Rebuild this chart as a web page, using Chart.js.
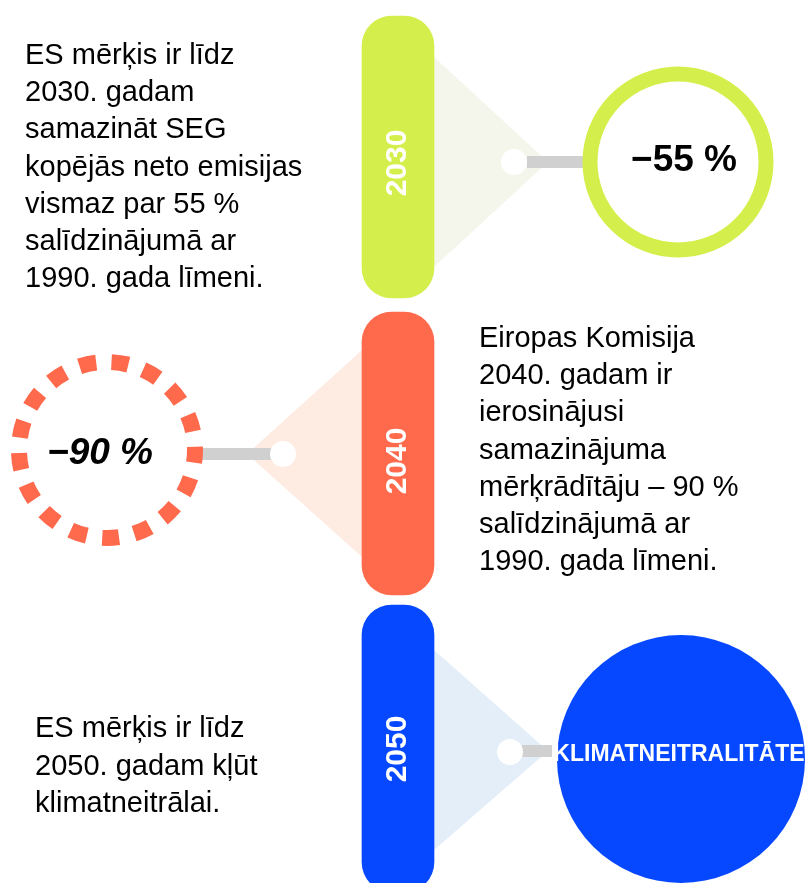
<!DOCTYPE html>
<html>
<head>
  <meta charset="UTF-8">
  <title>ES klimata mērķi</title>
  <script src="https://cdn.jsdelivr.net/npm/chart.js"></script>
  <style>
    html, body { margin: 0; padding: 0; background: #fff; }
    #chart { display: block; }
  </style>
</head>
<body>
  <canvas id="chart" width="808" height="883"></canvas>
  <script>
    // timeline data (axis units are the 808 x 883 artboard)
    const years = ['2030', '2040', '2050'];
    const pillSpans = [[16, 298], [312, 595], [605, 892]];
    const targets = ['−55 %', '−90 %', 'KLIMATNEITRALITĀTE'];

    const textLeft = [
      'ES mērķis ir līdz',
      '2030. gadam',
      'samazināt SEG',
      'kopējās neto emisijas',
      'vismaz par 55 %',
      'salīdzinājumā ar',
      '1990. gada līmeni.'
    ];
    const textRight = [
      'Eiropas Komisija',
      '2040. gadam ir',
      'ierosinājusi',
      'samazinājuma',
      'mērķrādītāju – 90 %',
      'salīdzinājumā ar',
      '1990. gada līmeni.'
    ];
    const textBottom = [
      'ES mērķis ir līdz',
      '2050. gadam kļūt',
      'klimatneitrālai.'
    ];

    // layout
    const pillX = 398;
    const cones = [
      [{x: 434, y: 57}, {x: 548, y: 162}, {x: 434, y: 267}],
      [{x: 362, y: 350}, {x: 247, y: 454}, {x: 362, y: 557}],
      [{x: 434, y: 650}, {x: 548, y: 751}, {x: 434, y: 850}]
    ];
    const links = [
      [{x: 527, y: 162}, {x: 584, y: 162}],
      [{x: 200, y: 454}, {x: 272, y: 454}],
      [{x: 522, y: 751}, {x: 552, y: 751}]
    ];
    const dots = [{x: 514, y: 162}, {x: 283, y: 454}, {x: 510, y: 752}];
    const circles = [{x: 678, y: 162}, {x: 107, y: 450}, {x: 681, y: 759}];
    const yearPos = [163, 461, 749];
    const targetPos = [[684, 161], [100, 454], [679, 755]];

    const lime = '#d4ef4b';
    const coral = '#ff6a4d';
    const blue = '#0648ff';
    const font = '"Liberation Sans", Arial, sans-serif';

    // dashed ring for 2040
    const dashRing = {
      id: 'dashRing',
      beforeDatasetDraw(chart, args) {
        if (!chart.data.datasets[args.index].dashed) return;
        const ctx = chart.ctx;
        const per = 2 * Math.PI * 88 / 17;
        ctx.save();
        ctx.setLineDash([17, per - 17]);
        ctx.lineDashOffset = 4.2;
      },
      afterDatasetDraw(chart, args) {
        if (!chart.data.datasets[args.index].dashed) return;
        chart.ctx.restore();
      }
    };

    const labels = {
      id: 'labels',
      afterDatasetsDraw(chart) {
        const ctx = chart.ctx;
        const xs = chart.scales.x;
        const ys = chart.scales.y;
        ctx.save();

        // years in the pills
        ctx.fillStyle = '#fff';
        ctx.font = 'bold 30px ' + font;
        ctx.textAlign = 'center';
        ctx.textBaseline = 'middle';
        years.forEach((yr, i) => {
          ctx.save();
          ctx.translate(xs.getPixelForValue(pillX), ys.getPixelForValue(yearPos[i]));
          ctx.rotate(-Math.PI / 2);
          ctx.fillText(yr, 0, 0);
          ctx.restore();
        });

        // circle labels
        ctx.fillStyle = '#000';
        ctx.font = 'bold 37px ' + font;
        ctx.fillText(targets[0], xs.getPixelForValue(targetPos[0][0]), ys.getPixelForValue(targetPos[0][1]));
        ctx.font = 'italic bold 37px ' + font;
        ctx.fillText(targets[1], xs.getPixelForValue(targetPos[1][0]), ys.getPixelForValue(targetPos[1][1]));
        ctx.fillStyle = '#fff';
        ctx.font = 'bold 23px ' + font;
        ctx.fillText(targets[2], xs.getPixelForValue(targetPos[2][0]), ys.getPixelForValue(targetPos[2][1]));

        // paragraphs
        ctx.fillStyle = '#000';
        ctx.font = '29px ' + font;
        ctx.textAlign = 'left';
        ctx.textBaseline = 'alphabetic';
        const block = (lines, x, y0, lh) => {
          lines.forEach((t, i) => {
            ctx.fillText(t, xs.getPixelForValue(x), ys.getPixelForValue(y0 + i * lh));
          });
        };
        block(textLeft, 25, 64, 37.2);
        block(textRight, 479, 347, 37.2);
        block(textBottom, 35, 737, 37.5);

        ctx.restore();
      }
    };

    const clear = 'rgba(0,0,0,0)';
    const datasets = [];

    cones.forEach((pts, i) => {
      datasets.push({
        type: 'line',
        data: pts,
        showLine: true,
        fill: 'shape',
        backgroundColor: ['#f4f6eb', '#feece3', '#e3eef9'][i],
        borderColor: clear,
        borderWidth: 1,
        pointRadius: 0,
        order: 10
      });
    });

    datasets.push({
      type: 'bar',
      data: pillSpans.map((s) => ({x: pillX, y: s})),
      backgroundColor: [lime, coral, blue],
      barThickness: 72,
      borderRadius: 30,
      borderSkipped: false,
      order: 9
    });

    links.forEach((pts) => {
      datasets.push({
        type: 'line',
        data: pts,
        showLine: true,
        fill: false,
        borderColor: '#d0d0d0',
        borderWidth: 12,
        borderCapStyle: 'butt',
        pointRadius: 0,
        order: 8
      });
    });

    datasets.push({
      type: 'scatter',
      data: dots,
      pointRadius: 13,
      pointBackgroundColor: '#fff',
      pointBorderWidth: 0,
      order: 7
    });

    datasets.push({
      type: 'scatter',
      data: [circles[0]],
      pointRadius: 88,
      pointBorderWidth: 15,
      pointBorderColor: lime,
      pointBackgroundColor: '#fff',
      order: 6
    });
    datasets.push({
      type: 'scatter',
      data: [circles[1]],
      dashed: true,
      pointRadius: 88,
      pointBorderWidth: 16,
      pointBorderColor: coral,
      pointBackgroundColor: clear,
      order: 6
    });
    datasets.push({
      type: 'scatter',
      data: [circles[2]],
      pointRadius: 124,
      pointBorderWidth: 0,
      pointBackgroundColor: blue,
      order: 6
    });

    new Chart(document.getElementById('chart'), {
      type: 'scatter',
      data: { datasets: datasets },
      options: {
        responsive: false,
        animation: false,
        events: [],
        layout: { padding: 0, autoPadding: false },
        plugins: {
          legend: { display: false },
          tooltip: { enabled: false }
        },
        scales: {
          x: { type: 'linear', min: 0, max: 808, offset: false, display: false },
          y: { type: 'linear', min: 0, max: 883, reverse: true, offset: false, display: false }
        }
      },
      plugins: [dashRing, labels]
    });
  </script>
</body>
</html>
